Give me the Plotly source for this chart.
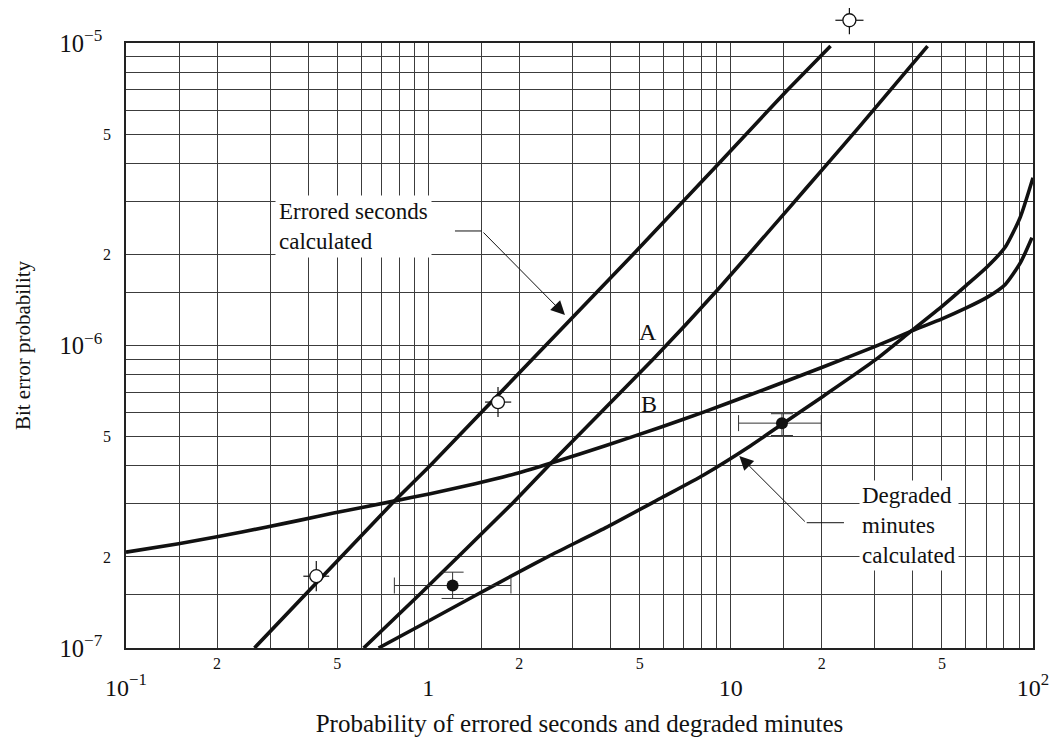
import plotly.graph_objects as go

# ---------------- data ----------------
# Errored seconds calculated
es_x = [0.266, 0.762, 1.015, 4.90, 9.12, 15.36, 21.4]
es_y = [1.0e-7, 3.02e-7, 4.01e-7, 2.063e-6, 3.99e-6, 6.97e-6, 9.77e-6]

# Curve A
a_x = [0.611, 0.9406, 1.914, 2.596, 5.561, 9.12, 15.36, 20.30, 26.84, 44.8]
a_y = [1.0e-7, 1.511e-7, 3.034e-7, 4.17e-7, 9.04e-7, 1.541e-6, 2.797e-6,
       3.86e-6, 5.33e-6, 9.77e-6]

# Curve B
b_x = [0.1, 0.1493, 0.200, 0.2926, 0.3772, 0.4861, 0.7616, 1.015, 1.430, 1.940,
       2.596, 3.849, 5.928, 8.138, 11.61, 15.16, 20.30, 30.09, 39.79, 50.0,
       60.17, 70.45, 80.97, 90.78, 99.2]
b_y = [2.074e-7, 2.212e-7, 2.332e-7, 2.512e-7, 2.647e-7, 2.792e-7, 3.053e-7,
       3.238e-7, 3.491e-7, 3.767e-7, 4.112e-7, 4.663e-7, 5.389e-7, 6.022e-7,
       6.871e-7, 7.603e-7, 8.506e-7, 9.93e-7, 1.118e-6, 1.225e-6, 1.331e-6,
       1.442e-6, 1.592e-6, 1.875e-6, 2.273e-6]

# Degraded minutes calculated
dm_x = [0.6846, 0.9406, 1.430, 1.940, 2.596, 3.849, 5.928, 8.138, 11.61, 15.16,
        20.30, 30.09, 39.79, 50.0, 60.17, 70.45, 80.97, 90.78, 100.0]
dm_y = [1.0e-7, 1.187e-7, 1.491e-7, 1.759e-7, 2.049e-7, 2.494e-7, 3.145e-7,
        3.733e-7, 4.656e-7, 5.588e-7, 6.813e-7, 8.96e-7, 1.122e-6, 1.347e-6,
        1.580e-6, 1.817e-6, 2.116e-6, 2.658e-6, 3.588e-6]

# Measured errored seconds (open circles) with error bounds
open_x = [0.426, 1.70, 24.7]
open_y = [1.727e-7, 6.50e-7, 1.189e-5]
open_x_lo = [0.386, 1.54, 22.2]
open_x_hi = [0.470, 1.88, 27.5]
open_y_lo = [1.54e-7, 5.80e-7, 1.068e-5]
open_y_hi = [1.94e-7, 7.29e-7, 1.323e-5]

# Measured degraded minutes (filled circles) with error bounds
fill_x = [1.203, 14.78]
fill_y = [1.609e-7, 5.538e-7]
fill_x_lo = [0.772, 10.62]
fill_x_hi = [1.876, 19.94]
fill_y_lo = [1.458e-7, 5.04e-7]
fill_y_hi = [1.781e-7, 5.95e-7]

# Ticks / grid
x_major = [0.1, 1, 10, 100]
x_major_text = ["10<sup>\u22121</sup>", "1", "10", "10<sup>2</sup>"]
x_minor = [0.2, 0.5, 2, 5, 20, 50]
x_minor_text = ["2", "5", "2", "5", "2", "5"]
y_major = [1e-7, 1e-6, 1e-5]
y_major_text = ["10<sup>\u22127</sup>", "10<sup>\u22126</sup>", "10<sup>\u22125</sup>"]
y_minor = [2e-7, 5e-7, 2e-6, 5e-6]
y_minor_text = ["2", "5", "2", "5"]
grid_mult = [1, 1.5, 2, 3, 4, 5, 6, 7, 8, 9]
x_grid = [m * d for d in (0.1, 1, 10) for m in grid_mult] + [100]
y_grid = [m * d for d in (1e-7, 1e-6) for m in grid_mult] + [1e-5]

# ---------------- figure ----------------
INK = "#111111"
GRID = "#3c3c3c"
FONT = "Liberation Serif, Times New Roman, serif"

Y_TOP = 1e-5                 # top of the framed axis
FRAME_FRAC = 605 / 640       # framed axis occupies this share of the plot height
Y3_TOP_LOG = -7 + 2 / FRAME_FRAC

fig = go.Figure()

fig.add_trace(go.Scatter(x=es_x, y=es_y, mode="lines", line=dict(color=INK, width=3.6),
                         name="Errored seconds calculated"))
fig.add_trace(go.Scatter(x=a_x, y=a_y, mode="lines",
                         line=dict(color=INK, width=3.6, shape="spline", smoothing=0.5),
                         name="A"))
fig.add_trace(go.Scatter(x=b_x, y=b_y, mode="lines", xaxis="x", yaxis="y2",
                         line=dict(color=INK, width=3.6, shape="spline", smoothing=0.6),
                         name="B"))
fig.add_trace(go.Scatter(x=dm_x, y=dm_y, mode="lines",
                         line=dict(color=INK, width=3.6, shape="spline", smoothing=0.6),
                         name="Degraded minutes calculated"))

fig.add_trace(go.Scatter(
    x=fill_x, y=fill_y, mode="markers", xaxis="x2", yaxis="y",
    marker=dict(symbol="circle", size=12, color=INK),
    error_x=dict(type="data", symmetric=False,
                 array=[h - v for h, v in zip(fill_x_hi, fill_x)],
                 arrayminus=[v - l for l, v in zip(fill_x_lo, fill_x)],
                 color="#333333", thickness=1, width=8),
    error_y=dict(type="data", symmetric=False,
                 array=[h - v for h, v in zip(fill_y_hi, fill_y)],
                 arrayminus=[v - l for l, v in zip(fill_y_lo, fill_y)],
                 color="#333333", thickness=1, width=11),
    name="Degraded minutes measured"))


def open_points(idx, xa, ya, name):
    xs = [open_x[i] for i in idx]
    ys = [open_y[i] for i in idx]
    return go.Scatter(
        x=xs, y=ys, mode="markers", xaxis=xa, yaxis=ya, cliponaxis=False,
        marker=dict(symbol="circle", size=13, color="white",
                    line=dict(color=INK, width=1.3)),
        error_x=dict(type="data", symmetric=False,
                     array=[open_x_hi[i] - open_x[i] for i in idx],
                     arrayminus=[open_x[i] - open_x_lo[i] for i in idx],
                     color=INK, thickness=1.2, width=0),
        error_y=dict(type="data", symmetric=False,
                     array=[open_y_hi[i] - open_y[i] for i in idx],
                     arrayminus=[open_y[i] - open_y_lo[i] for i in idx],
                     color=INK, thickness=1.2, width=0),
        name=name)


inside = [i for i, v in enumerate(open_y) if v <= Y_TOP]
outside = [i for i, v in enumerate(open_y) if v > Y_TOP]
fig.add_trace(open_points(inside, "x", "y", "Errored seconds measured"))
fig.add_trace(open_points(outside, "x2", "y3", "Errored seconds measured (off scale)"))

grid_common = dict(showgrid=True, gridcolor=GRID, gridwidth=1)

fig.update_layout(
    width=1050, height=738,
    margin=dict(l=118, r=25, t=0, b=98, autoexpand=False),
    paper_bgcolor="white", plot_bgcolor="rgba(0,0,0,0)", showlegend=False,
    font=dict(family=FONT, color=INK),
    xaxis=dict(
        type="log", range=[-1, 2], tickmode="array", tickvals=x_major,
        ticktext=x_major_text, tickfont=dict(size=24, family=FONT, color=INK),
        ticks="", ticklabelstandoff=17, zeroline=False, automargin=False,
        showline=True, mirror=True, linecolor="#222222", linewidth=1.5,
        minor=dict(tickmode="array", tickvals=x_grid, ticks="", **grid_common),
        title=dict(text="Probability of errored seconds and degraded minutes",
                   font=dict(size=25, family=FONT, color=INK), standoff=15),
        **grid_common),
    xaxis2=dict(
        type="log", range=[-1, 2], overlaying="x", anchor="y", side="bottom",
        tickmode="array", tickvals=x_minor, ticktext=x_minor_text,
        tickfont=dict(size=16, family=FONT, color=INK), ticks="",
        ticklabelstandoff=4, showgrid=False, zeroline=False, showline=False,
        automargin=False),
    yaxis=dict(
        type="log", range=[-7, -5], domain=[0, FRAME_FRAC], tickmode="array",
        tickvals=y_major, ticktext=y_major_text,
        tickfont=dict(size=24.5, family=FONT, color=INK),
        ticks="", ticklabelstandoff=17, zeroline=False, automargin=False,
        showline=True, mirror=True, linecolor="#222222", linewidth=1.5,
        minor=dict(tickmode="array", tickvals=y_grid, ticks="", **grid_common),
        title=dict(text="Bit error probability",
                   font=dict(size=21, family=FONT, color=INK), standoff=23),
        **grid_common),
    yaxis2=dict(
        type="log", range=[-7, -5], overlaying="y", anchor="x", side="left",
        tickmode="array", tickvals=y_minor, ticktext=y_minor_text,
        tickfont=dict(size=16, family=FONT, color=INK), ticks="",
        ticklabelstandoff=14, showgrid=False, zeroline=False, showline=False,
        automargin=False),
    yaxis3=dict(
        type="log", range=[-7, Y3_TOP_LOG], domain=[0, 1], anchor="x2",
        visible=False, showgrid=False, zeroline=False),
)

# leader lines
fig.add_shape(type="line", xref="x domain", yref="y domain", x0=0.3627, x1=0.3922,
              y0=0.6893, y1=0.6893, line=dict(color=INK, width=1))
fig.add_shape(type="line", xref="x domain", yref="y domain", x0=0.7505, x1=0.7916,
              y0=0.2071, y1=0.2071, line=dict(color=INK, width=1))

# arrows
fig.add_annotation(xref="x domain", yref="y domain", x=0.4840, y=0.5504, ax=-83, ay=-84,
                   axref="pixel", ayref="pixel", text="", showarrow=True,
                   arrowhead=2, arrowsize=2.8, arrowwidth=1, arrowcolor=INK, standoff=0)
fig.add_annotation(xref="x domain", yref="y domain", x=0.6762, y=0.3174, ax=67, ay=67,
                   axref="pixel", ayref="pixel", text="", showarrow=True,
                   arrowhead=2, arrowsize=2.8, arrowwidth=1, arrowcolor=INK, standoff=0)

# labels
fig.add_annotation(xref="x domain", yref="y domain", x=0.2508, y=0.6967,
                   text="Errored seconds<br>calculated", showarrow=False,
                   xanchor="center", yanchor="middle", align="left",
                   font=dict(size=23, family=FONT, color=INK),
                   bgcolor="white", borderpad=3)
fig.add_annotation(xref="x domain", yref="y domain", x=0.8638, y=0.2033,
                   text="Degraded<br>minutes<br>calculated", showarrow=False,
                   xanchor="center", yanchor="middle", align="left",
                   font=dict(size=23, family=FONT, color=INK),
                   bgcolor="white", borderpad=2)
fig.add_annotation(xref="x domain", yref="y domain", x=0.5755, y=0.5231, text="A",
                   showarrow=False, font=dict(size=24, family=FONT, color=INK))
fig.add_annotation(xref="x domain", yref="y domain", x=0.5766, y=0.4025, text="B",
                   showarrow=False, font=dict(size=24, family=FONT, color=INK))

fig.write_html("out.html")
